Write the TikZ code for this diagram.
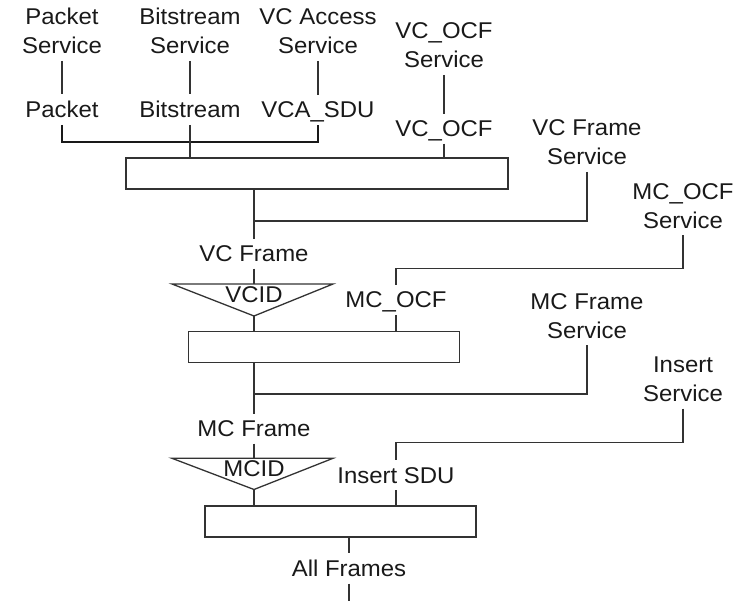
\documentclass[tikz,border=0pt]{standalone}
\usepackage{fontspec}
\setmainfont[FakeStretch=1.05]{Liberation Sans}
\usetikzlibrary{positioning}

\begin{document}
\begin{tikzpicture}[x=1pt,y=-1pt,
 lbl/.style={font=\fontsize{22.8}{29}\selectfont,align=center,inner sep=0pt,
 outer sep=7pt,text depth=0pt,anchor=south,text=black!90},
 blk/.style={draw=black!80,line width=1.3pt,inner sep=0pt,minimum height=31pt},
 ln/.style={draw=black!80,line width=1.3pt},
 bus/.style={draw=black!90,line width=2.8pt}]
\useasboundingbox (0,0) rectangle (737,601);
% services and their SDUs
\node[lbl] (pktsrv) at (62,61) {Packet\\Service};
\node[lbl] (bitsrv) at (190,61) {Bitstream\\Service};
\node[lbl] (vcasrv) at (318,61) {VC Access\\Service};
\node[lbl] (vcocfsrv) at (444,75) {VC\_OCF\\Service};
\node[lbl] (pkt) at (62,125) {Packet};
\node[lbl] (bit) at (190,125) {Bitstream};
\node[lbl] (vcasdu) at (318,125) {VCA\_SDU};
\node[lbl] (vcocf) at (444,143.7) {VC\_OCF};
\node[lbl] (vcfsrv) at (587,172) {VC Frame\\Service};
\node[lbl] (vcframe) at (254,268.7) {VC Frame};
\node[lbl] (mcocfsrv) at (683,235.3) {MC\_OCF\\Service};
\node[lbl] (mcocf) at (396,315) {MC\_OCF};
\node[lbl] (mcfsrv) at (587,345.3) {MC Frame\\Service};
\node[lbl] (mcframe) at (254,443.7) {MC Frame};
\node[lbl] (inssrv) at (683,408.7) {Insert\\Service};
\node[lbl] (inssdu) at (396,490.3) {Insert SDU};
\node[lbl] (allframes) at (349,583.7) {All Frames};
% processing blocks
\node[blk,minimum width=382pt] (vcbox) at (317,173.5) {};
\node[blk,minimum width=271pt] (mcbox) at (324.3,347) {};
\node[blk,minimum width=271pt] (allbox) at (340.5,521.5) {};
% turning points
\coordinate (bus) at (190,142);
\coordinate (vcjoin) at (254,221);
\coordinate (vctop) at (254,284);
\coordinate (vcapex) at (254,316);
\coordinate (mcocfturn) at (396,268.3);
\coordinate (mcjoin) at (254,394);
\coordinate (mctop) at (254,458.3);
\coordinate (mcapex) at (254,489.5);
\coordinate (insturn) at (396,442.7);
\coordinate (tail) at (349,601);
% demultiplexers
\draw[ln,line join=miter] (172,284) -- (333,284) -- (vcapex) -- cycle;
\draw[ln,line join=miter] (172,458.3) -- (333,458.3) -- (mcapex) -- cycle;
\node[lbl,anchor=base,outer sep=0pt] (vcid) at (254,303) {VCID};
\node[lbl,anchor=base,outer sep=0pt] (mcid) at (254,476.7) {MCID};
% connections
\draw[ln] (pktsrv.south) -- (pkt.north);
\draw[ln] (bitsrv.south) -- (bit.north);
\draw[ln] (vcasrv.south) -- (vcasdu.north);
\draw[ln] (vcocfsrv.south) -- (vcocf.north);
\draw[bus] (pkt.south) |- (bus) -| (vcasdu.south);
\draw[ln] (bit.south) -- (bit.south |- vcbox.north);
\draw[ln] (vcocf.south) -- (vcocf.south |- vcbox.north);
\draw[ln] (vcframe.north |- vcbox.south) -- (vcframe.north);
\draw[ln] (vcfsrv.south) |- (vcjoin);
\draw[ln] (vcframe.south) -- (vctop);
\draw[ln] (vcapex) -- (vcapex |- mcbox.north);
\draw[ln] (mcocfsrv.south) |- (mcocfturn) -- (mcocf.north);
\draw[ln] (mcocf.south) -- (mcocf.south |- mcbox.north);
\draw[ln] (mcframe.north |- mcbox.south) -- (mcframe.north);
\draw[ln] (mcfsrv.south) |- (mcjoin);
\draw[ln] (mcframe.south) -- (mctop);
\draw[ln] (mcapex) -- (mcapex |- allbox.north);
\draw[ln] (inssrv.south) |- (insturn) -- (inssdu.north);
\draw[ln] (inssdu.south) -- (inssdu.south |- allbox.north);
\draw[ln] (allframes.north |- allbox.south) -- (allframes.north);
\draw[ln] (allframes.south) -- (tail);
\end{tikzpicture}
\end{document}
